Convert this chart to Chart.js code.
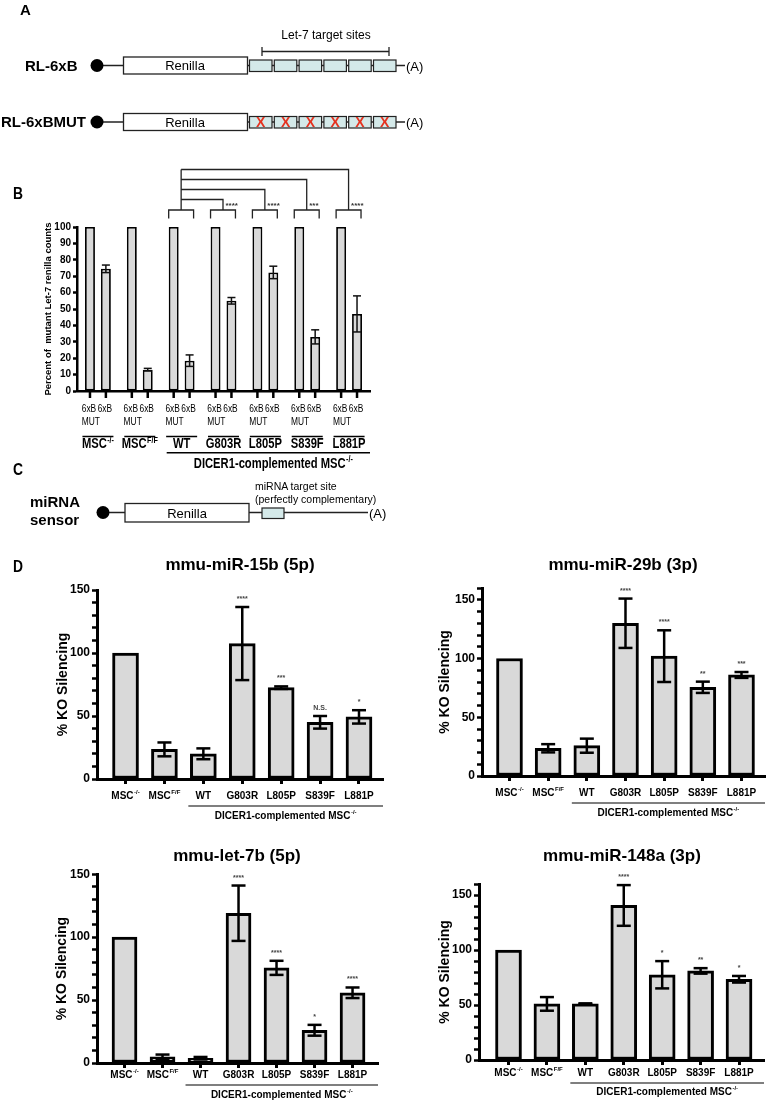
<!DOCTYPE html>
<html>
<head>
<meta charset="utf-8">
<script src="https://cdn.jsdelivr.net/npm/chart.js@4.4.0/dist/chart.umd.min.js"></script>
<style>
  body { margin: 0; background: #fff; width: 768px; height: 1101px; position: relative; overflow: hidden; }
  canvas { position: absolute; }
  #art { position: absolute; left: 0; top: 0; }
</style>
</head>
<body>
<canvas id="cB" width="390" height="340" style="left:0;top:140px"></canvas>
<canvas id="cTL" width="390" height="255" style="left:0;top:575px"></canvas>
<canvas id="cTR" width="384" height="255" style="left:384px;top:575px"></canvas>
<canvas id="cBL" width="390" height="236" style="left:0;top:865px"></canvas>
<canvas id="cBR" width="384" height="236" style="left:384px;top:865px"></canvas>
<svg id="art" width="768" height="1101" font-family="'Liberation Sans', Arial, sans-serif"></svg>

<script>
// ---- panel B data ----
const groupsB = ['MSC', 'MSC', 'WT', 'G803R', 'L805P', 'S839F', 'L881P'];
const groupSupB = ['-/-', 'F/F', '', '', '', '', ''];
const mutCounts = [100, 100, 100, 100, 100, 100, 100];
const sixBCounts = [74.5, 13, 18.5, 55, 72.3, 33, 47];
const sixBErr = [2.3, 0.8, 3.5, 2, 3.8, 4.3, 11];
const yTicksB = [0, 10, 20, 30, 40, 50, 60, 70, 80, 90, 100];
const comparedB = [3, 4, 5, 6];          // groups tested against WT
const starsB = ['****', '****', '***', '****'];

// ---- panel D data ----
const lines = ['MSC', 'MSC', 'WT', 'G803R', 'L805P', 'S839F', 'L881P'];
const lineSup = ['-/-', 'F/F', '', '', '', '', ''];
const miR15b = [100, 23.5, 20, 107.5, 72.5, 45, 49.3];
const miR15bErr = [0, 5.5, 4.3, 29, 1, 5, 5.3];
const miR15bSig = ['', '', '', '****', '***', 'N.S.', '*'];
const miR29b = [100, 23.6, 25.8, 130, 102, 75.5, 86];
const miR29bErr = [0, 3.5, 6, 21, 22, 4.8, 2.5];
const miR29bSig = ['', '', '', '****', '****', '**', '***'];
const let7b = [100, 5, 3.8, 119, 75.6, 26, 55.8];
const let7bErr = [0, 1.7, 1, 22, 5.6, 4.3, 4.2];
const let7bSig = ['', '', '', '****', '****', '*', '****'];
const miR148a = [100, 51, 51, 140.5, 77.5, 81, 73.4];
const miR148aErr = [0, 6.2, 0.5, 18.5, 12.4, 2.5, 3];
const miR148aSig = ['', '', '', '****', '*', '**', '*'];
const majorTicksD = [0, 50, 100, 150];
const minorTicks150 = [0, 10, 20, 30, 40, 50, 60, 70, 80, 90, 100, 110, 120, 130, 140, 150];
const minorTicks160 = [0, 10, 20, 30, 40, 50, 60, 70, 80, 90, 100, 110, 120, 130, 140, 150, 160];

const SANS = "'Liberation Sans', Arial, sans-serif";
const GRAY = '#d9d9d9';
const NARROW = 0.8;   // horizontal squeeze used to mimic the condensed face of panel B

Chart.defaults.color = '#000';
Chart.defaults.font.family = SANS;

function seg(ctx, x1, y1, x2, y2) {
  ctx.beginPath(); ctx.moveTo(x1, y1); ctx.lineTo(x2, y2); ctx.stroke();
}

// text with a small raised suffix, centred on cx; sx squeezes it horizontally
function supLabel(ctx, base, sup, cx, cy, size, weight, sx = 1) {
  const bf = `${weight} ${size}px ${SANS}`;
  const sf = `${weight} ${Math.round(size * 0.62)}px ${SANS}`;
  ctx.font = bf; const w1 = ctx.measureText(base).width;
  ctx.font = sf; const w2 = sup ? ctx.measureText(sup).width + 0.5 : 0;
  ctx.save();
  ctx.translate(cx - (w1 + w2) * sx / 2, cy);
  ctx.scale(sx, 1);
  ctx.textAlign = 'left'; ctx.textBaseline = 'middle';
  ctx.font = bf; ctx.fillText(base, 0, 0);
  if (sup) { ctx.font = sf; ctx.fillText(sup, w1 + 0.5, -size * 0.32); }
  ctx.restore();
}

function narrowText(ctx, text, x, y, font, align) {
  ctx.save();
  ctx.font = font; ctx.textBaseline = 'middle'; ctx.textAlign = align;
  ctx.translate(x, y); ctx.scale(NARROW, 1);
  ctx.fillText(text, 0, 0);
  ctx.restore();
}

/* ---------------- panel B ---------------- */
const decorB = {
  id: 'decorB',
  afterDatasetsDraw(chart) {
    const ctx = chart.ctx, ys = chart.scales.y, a = chart.chartArea;
    const mut = chart.getDatasetMeta(0).data, six = chart.getDatasetMeta(1).data;
    ctx.save();
    ctx.strokeStyle = '#111'; ctx.fillStyle = '#000';

    // error bars on the 6xB bars
    ctx.lineWidth = 1.5;
    sixBCounts.forEach((v, i) => {
      const x = six[i].x;
      const t = ys.getPixelForValue(v + sixBErr[i]), b = ys.getPixelForValue(v - sixBErr[i]);
      seg(ctx, x, t, x, b); seg(ctx, x - 4, t, x + 4, t); seg(ctx, x - 4, b, x + 4, b);
    });

    // tick marks under every bar
    ctx.lineWidth = 2.5; ctx.strokeStyle = '#000';
    mut.concat(six).forEach(bar => seg(ctx, bar.x, a.bottom, bar.x, a.bottom + 7));

    // bar and group labels
    const smallFont = `10.5px ${SANS}`;
    ctx.font = smallFont;
    const w6 = ctx.measureText('6xB').width * NARROW;
    groupsB.forEach((g, i) => {
      narrowText(ctx, '6xB', mut[i].x - 1, a.bottom + 18, smallFont, 'center');
      narrowText(ctx, '6xB', six[i].x - 1, a.bottom + 18, smallFont, 'center');
      narrowText(ctx, 'MUT', mut[i].x - 1 - w6 / 2, a.bottom + 31, smallFont, 'left');
      const gc = (mut[i].x + six[i].x) / 2;
      ctx.lineWidth = 1.5;
      seg(ctx, gc - 15.5, a.bottom + 45.5, gc + 15.5, a.bottom + 45.5);
      supLabel(ctx, g, groupSupB[i], gc, a.bottom + 53.5, 14, 'bold', NARROW);
    });
    const x0 = mut[2].x - 7;
    ctx.lineWidth = 1.5;
    seg(ctx, x0, a.bottom + 61.7, a.right, a.bottom + 61.7);
    supLabel(ctx, 'DICER1-complemented MSC', '-/-', (x0 + a.right) / 2 + 5, a.bottom + 73.3, 14, 'bold', NARROW);

    // significance brackets
    ctx.lineWidth = 1.3; ctx.strokeStyle = '#222';
    const bt = a.top - 17, bb = a.top - 8.5;
    const bracket = g => {
      const xl = mut[g].x - 5, xr = six[g].x + 4;
      ctx.beginPath(); ctx.moveTo(xl, bb); ctx.lineTo(xl, bt); ctx.lineTo(xr, bt); ctx.lineTo(xr, bb); ctx.stroke();
      return (xl + xr) / 2;
    };
    const ref = bracket(2);
    let topY = bt;
    comparedB.forEach((g, k) => {
      const c = bracket(g);
      const hy = bt - 10.5 - 10 * k;
      topY = hy;
      ctx.beginPath(); ctx.moveTo(ref, hy); ctx.lineTo(c, hy); ctx.lineTo(c, bt); ctx.stroke();
      ctx.font = `bold 8px ${SANS}`; ctx.textAlign = 'left'; ctx.textBaseline = 'middle'; ctx.fillStyle = '#333';
      ctx.fillText(starsB[k], c + 2.5, bt - 4);
    });
    seg(ctx, ref, bt, ref, topY);
    ctx.restore();
  }
};

new Chart(document.getElementById('cB'), {
  type: 'bar',
  data: {
    labels: groupsB,
    datasets: [
      { data: mutCounts, backgroundColor: GRAY, borderColor: '#000', borderWidth: 1.8, borderSkipped: false },
      { data: sixBCounts, backgroundColor: GRAY, borderColor: '#000', borderWidth: 1.8, borderSkipped: false }
    ]
  },
  options: {
    responsive: false, animation: false, events: [],
    categoryPercentage: 0.76, barPercentage: 0.625,
    layout: { padding: { top: 87, right: 20, left: 0, bottom: 0 } },
    plugins: { legend: { display: false }, tooltip: { enabled: false } },
    scales: {
      x: {
        ticks: { display: false },
        grid: { display: false },
        border: { display: true, width: 2.5, color: '#000' },
        afterFit: s => { s.height = 89; }
      },
      y: {
        min: 0, max: 100,
        afterBuildTicks: s => { s.ticks = yTicksB.map(v => ({ value: v })); },
        afterFit: s => { s.width = 77; },
        ticks: { font: { family: SANS, size: 10, weight: 'bold' }, color: '#000', padding: 2 },
        grid: { drawOnChartArea: false, drawTicks: true, tickLength: 4, tickWidth: 2.5, tickColor: '#000' },
        border: { display: true, width: 2.5, color: '#000' },
        title: {
          display: true, text: 'Percent of  mutant Let-7 renilla counts',
          font: { family: SANS, size: 9.5, weight: 'bold' }, color: '#000',
          padding: { top: 43, bottom: 0 }
        }
      }
    }
  },
  plugins: [decorB]
});

/* ---------------- panel D ---------------- */
function makeDecor(values, errs, sigs, lay) {
  return {
    id: 'decorD',
    afterDatasetsDraw(chart) {
      const ctx = chart.ctx, ys = chart.scales.y, xs = chart.scales.x, a = chart.chartArea;
      const bars = chart.getDatasetMeta(0).data;
      ctx.save();
      ctx.strokeStyle = '#000'; ctx.lineWidth = 2.5;
      values.forEach((v, i) => {
        const x = bars[i].x, e = errs[i];
        const t = ys.getPixelForValue(v + e), b = ys.getPixelForValue(v - e);
        if (e > 0) { seg(ctx, x, t, x, b); seg(ctx, x - 7, t, x + 7, t); seg(ctx, x - 7, b, x + 7, b); }
        if (sigs[i]) {
          ctx.fillStyle = '#444'; ctx.font = `bold 7px ${SANS}`;
          ctx.textAlign = 'center'; ctx.textBaseline = 'alphabetic';
          ctx.fillText(sigs[i], x, t - 6);
        }
      });
      ctx.fillStyle = '#000';
      lines.forEach((s, i) => supLabel(ctx, s, lineSup[i], xs.getPixelForValue(i), a.bottom + lay.lab, 10, 'bold'));
      const x0 = xs.getPixelForValue(2) - 15, x1 = a.right;
      ctx.lineWidth = 1.2;
      seg(ctx, x0, a.bottom + lay.rule, x1, a.bottom + lay.rule);
      supLabel(ctx, 'DICER1-complemented MSC', '-/-', (x0 + x1) / 2, a.bottom + lay.dic, 10, 'bold');
      ctx.restore();
    }
  };
}

function makeD(id, values, errs, sigs, yTicks, lay) {
  return new Chart(document.getElementById(id), {
    type: 'bar',
    data: {
      datasets: [{
        data: values.map((v, i) => ({ x: i, y: v })),
        backgroundColor: GRAY, borderColor: '#000', borderWidth: 3,
        borderSkipped: false, barThickness: lay.barW
      }]
    },
    options: {
      responsive: false, animation: false, events: [],
      layout: { padding: { top: lay.top, right: lay.right, left: 0, bottom: 0 } },
      plugins: { legend: { display: false }, tooltip: { enabled: false } },
      scales: {
        x: {
          type: 'linear', min: lay.xmin, max: lay.xmax, offset: false,
          afterBuildTicks: s => { s.ticks = lines.map((_, i) => ({ value: i })); },
          afterFit: s => { s.height = lay.bottom; },
          ticks: { autoSkip: false, callback: () => '' },
          grid: { offset: false, drawOnChartArea: false, drawTicks: true, tickLength: 5, tickWidth: 3, tickColor: '#000' },
          border: { display: true, width: 3, color: '#000' }
        },
        y: {
          min: 0, max: yTicks[yTicks.length - 1],
          afterBuildTicks: s => { s.ticks = yTicks.map(v => ({ value: v })); },
          afterFit: s => { s.width = lay.yw; },
          ticks: {
            autoSkip: false, padding: 2, color: '#000',
            font: { family: SANS, size: 12, weight: 'bold' },
            callback: v => majorTicksD.includes(v) ? String(v) : ''
          },
          grid: { drawOnChartArea: false, drawTicks: true, tickLength: 5, tickWidth: 2.5, tickColor: '#000' },
          border: { display: true, width: 3, color: '#000' },
          title: {
            display: true, text: '% KO Silencing', color: '#000',
            font: { family: SANS, size: 14, weight: 'bold' },
            padding: { top: lay.tp, bottom: 0 }
          }
        }
      }
    },
    plugins: [makeDecor(values, errs, sigs, lay)]
  });
}

makeD('cTL', miR15b, miR15bErr, miR15bSig, minorTicks150,
  { top: 15, right: 7, bottom: 51, yw: 97, xmin: -0.733, xmax: 6.617, barW: 26, tp: 55, lab: 17, rule: 27, dic: 37 });
makeD('cTR', miR29b, miR29bErr, miR29bSig, minorTicks160,
  { top: 13, right: 3, bottom: 54, yw: 98, xmin: -0.711, xmax: 6.608, barW: 26, tp: 53, lab: 17, rule: 27, dic: 37 });
makeD('cBL', let7b, let7bErr, let7bSig, minorTicks150,
  { top: 9, right: 12, bottom: 38, yw: 97, xmin: -0.724, xmax: 6.67, barW: 25, tp: 54, lab: 12, rule: 22, dic: 32 });
makeD('cBR', miR148a, miR148aErr, miR148aSig, minorTicks160,
  { top: 19, right: 4, bottom: 41, yw: 95, xmin: -0.768, xmax: 6.65, barW: 26, tp: 53, lab: 13, rule: 23, dic: 32 });

/* ---------------- schematics (A, C) and headings ---------------- */
const svg = document.getElementById('art');
function el(tag, attrs, text) {
  const e = document.createElementNS('http://www.w3.org/2000/svg', tag);
  for (const k in attrs) e.setAttribute(k, attrs[k]);
  if (text !== undefined) e.textContent = text;
  svg.appendChild(e);
  return e;
}

el('text', { x: 20, y: 15, 'font-weight': 'bold', 'font-size': 15 }, 'A');
el('text', { x: 13, y: 199, 'font-weight': 'bold', 'font-size': 16, textLength: 10, lengthAdjust: 'spacingAndGlyphs' }, 'B');
el('text', { x: 13, y: 475, 'font-weight': 'bold', 'font-size': 16, textLength: 10, lengthAdjust: 'spacingAndGlyphs' }, 'C');
el('text', { x: 13, y: 572, 'font-weight': 'bold', 'font-size': 16, textLength: 10, lengthAdjust: 'spacingAndGlyphs' }, 'D');

function construct(y, label, labelX, mutated) {
  el('text', { x: labelX, y: y + 5, 'font-weight': 'bold', 'font-size': 15 }, label);
  el('line', { x1: 97, y1: y, x2: 405, y2: y, stroke: '#222', 'stroke-width': 1.3 });
  el('circle', { cx: 97, cy: y, r: 6.5, fill: '#000' });
  el('rect', { x: 123.5, y: y - 8.5, width: 124, height: 17, fill: '#fff', stroke: '#222', 'stroke-width': 1.3 });
  el('text', { x: 185, y: y + 4.5, 'text-anchor': 'middle', 'font-size': 13 }, 'Renilla');
  for (let i = 0; i < 6; i++) {
    const bx = 249.5 + 24.8 * i;
    el('rect', { x: bx, y: y - 5.5, width: 22.5, height: 11.5, fill: '#d4e9e9', stroke: '#222', 'stroke-width': 1.2 });
    if (mutated) el('text', { x: bx + 11.25, y: y + 5, 'text-anchor': 'middle', 'font-size': 14, 'font-weight': 'bold', fill: '#e5321f' }, 'X');
  }
  el('text', { x: 406, y: y + 5, 'font-size': 13 }, '(A)');
}
el('path', { d: 'M262 47 V56 M262 51.5 H389 M389 47 V56', stroke: '#222', 'stroke-width': 1.3, fill: 'none' });
el('text', { x: 326, y: 39, 'text-anchor': 'middle', 'font-size': 12 }, 'Let-7 target sites');
construct(65.5, 'RL-6xB', 25, false);
construct(122, 'RL-6xBMUT', 1, true);

// panel C sensor
el('text', { x: 30, y: 507, 'font-weight': 'bold', 'font-size': 15 }, 'miRNA');
el('text', { x: 30, y: 525, 'font-weight': 'bold', 'font-size': 15 }, 'sensor');
el('line', { x1: 103, y1: 512.5, x2: 368, y2: 512.5, stroke: '#222', 'stroke-width': 1.3 });
el('circle', { cx: 103, cy: 512.5, r: 6.5, fill: '#000' });
el('rect', { x: 125, y: 503.5, width: 124, height: 18.5, fill: '#fff', stroke: '#222', 'stroke-width': 1.3 });
el('text', { x: 187, y: 517.5, 'text-anchor': 'middle', 'font-size': 13 }, 'Renilla');
el('rect', { x: 262, y: 508, width: 22, height: 10.5, fill: '#d4e9e9', stroke: '#222', 'stroke-width': 1.2 });
el('text', { x: 369, y: 517.5, 'font-size': 13 }, '(A)');
el('text', { x: 255, y: 490, 'font-size': 10.5 }, 'miRNA target site');
el('text', { x: 255, y: 503, 'font-size': 10.5 }, '(perfectly complementary)');

// panel D headings
el('text', { x: 240, y: 570, 'text-anchor': 'middle', 'font-weight': 'bold', 'font-size': 17 }, 'mmu-miR-15b (5p)');
el('text', { x: 623, y: 570, 'text-anchor': 'middle', 'font-weight': 'bold', 'font-size': 17 }, 'mmu-miR-29b (3p)');
el('text', { x: 237, y: 861, 'text-anchor': 'middle', 'font-weight': 'bold', 'font-size': 17 }, 'mmu-let-7b (5p)');
el('text', { x: 622, y: 861, 'text-anchor': 'middle', 'font-weight': 'bold', 'font-size': 17 }, 'mmu-miR-148a (3p)');
</script>
</body>
</html>
